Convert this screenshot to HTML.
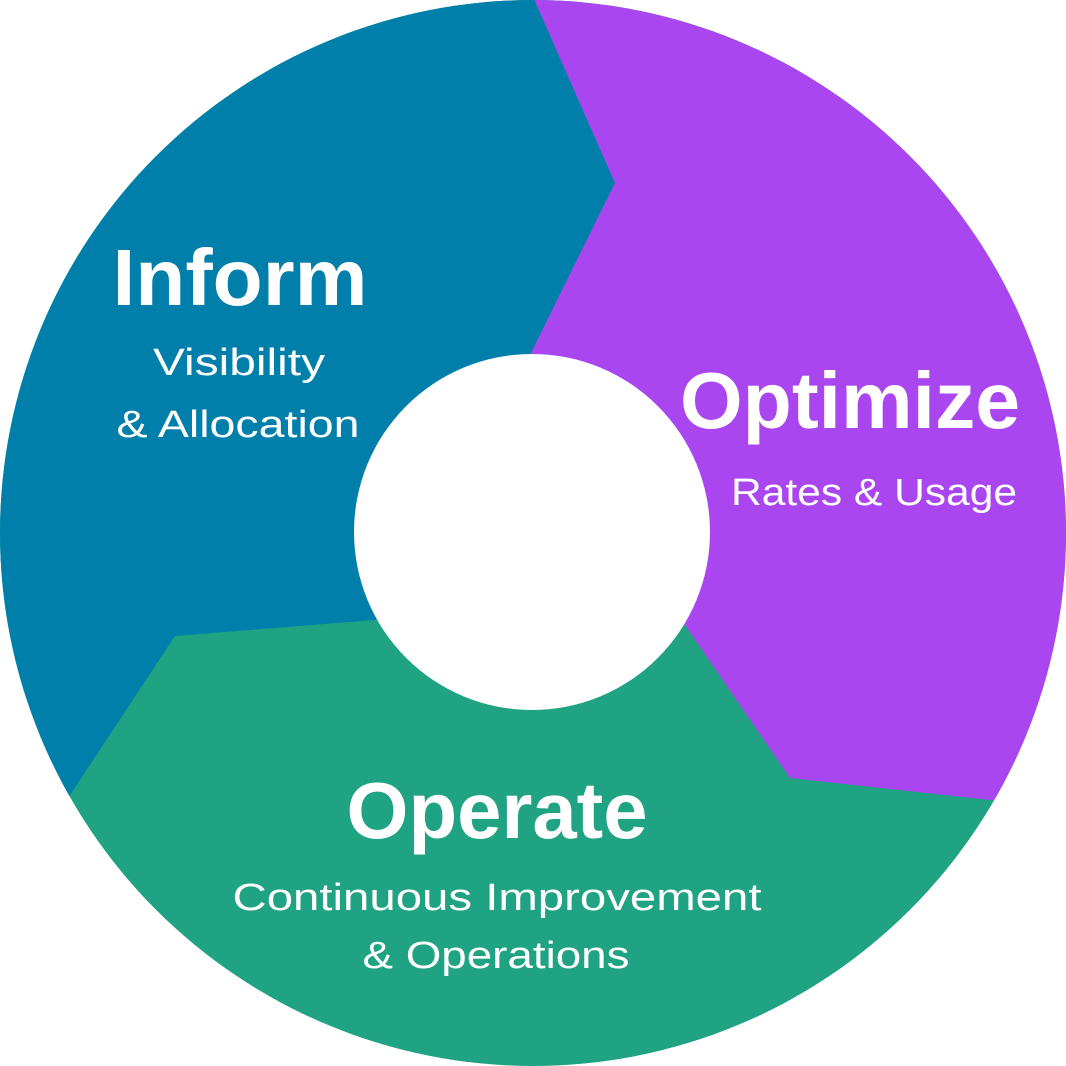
<!DOCTYPE html>
<html><head><meta charset="utf-8"><style>html,body{margin:0;padding:0;background:#fff}svg{display:block}</style></head>
<body>
<svg width="1066" height="1066" viewBox="0 0 1066 1066" xmlns="http://www.w3.org/2000/svg">
<defs><clipPath id="c"><circle cx="533" cy="533" r="533"/></clipPath></defs>
<g clip-path="url(#c)">
<rect x="0" y="0" width="1066" height="1066" fill="#20A383"/>
<polygon fill="#007FAB" points="530,-10 615,183 530,355 533,533 375,620 175,636 70,795 -10,920 -10,-10"/>
<polygon fill="#AA46F0" points="530,-10 615,183 530,355 533,533 685,625 790,778 990,800 1100,805 1100,-10"/>
</g>
<circle cx="532" cy="532" r="178" fill="#fff"/>
<g fill="#fff" font-family="'Liberation Sans', sans-serif" text-anchor="middle">
<text x="240" y="305" font-size="80" font-weight="bold" textLength="255" lengthAdjust="spacingAndGlyphs">Inform</text>
<text x="239" y="375" font-size="38" textLength="172" lengthAdjust="spacingAndGlyphs">Visibility</text>
<text x="238" y="437" font-size="38" textLength="243" lengthAdjust="spacingAndGlyphs">&amp; Allocation</text>
<text x="850" y="428" font-size="80" font-weight="bold" textLength="340" lengthAdjust="spacingAndGlyphs">Optimize</text>
<text x="874" y="505" font-size="38" textLength="286" lengthAdjust="spacingAndGlyphs">Rates &amp; Usage</text>
<text x="497" y="838" font-size="80" font-weight="bold" textLength="301" lengthAdjust="spacingAndGlyphs">Operate</text>
<text x="497" y="910" font-size="38" textLength="529" lengthAdjust="spacingAndGlyphs">Continuous Improvement</text>
<text x="496" y="968" font-size="38" textLength="267" lengthAdjust="spacingAndGlyphs">&amp; Operations</text>
</g>
</svg>
</body></html>
